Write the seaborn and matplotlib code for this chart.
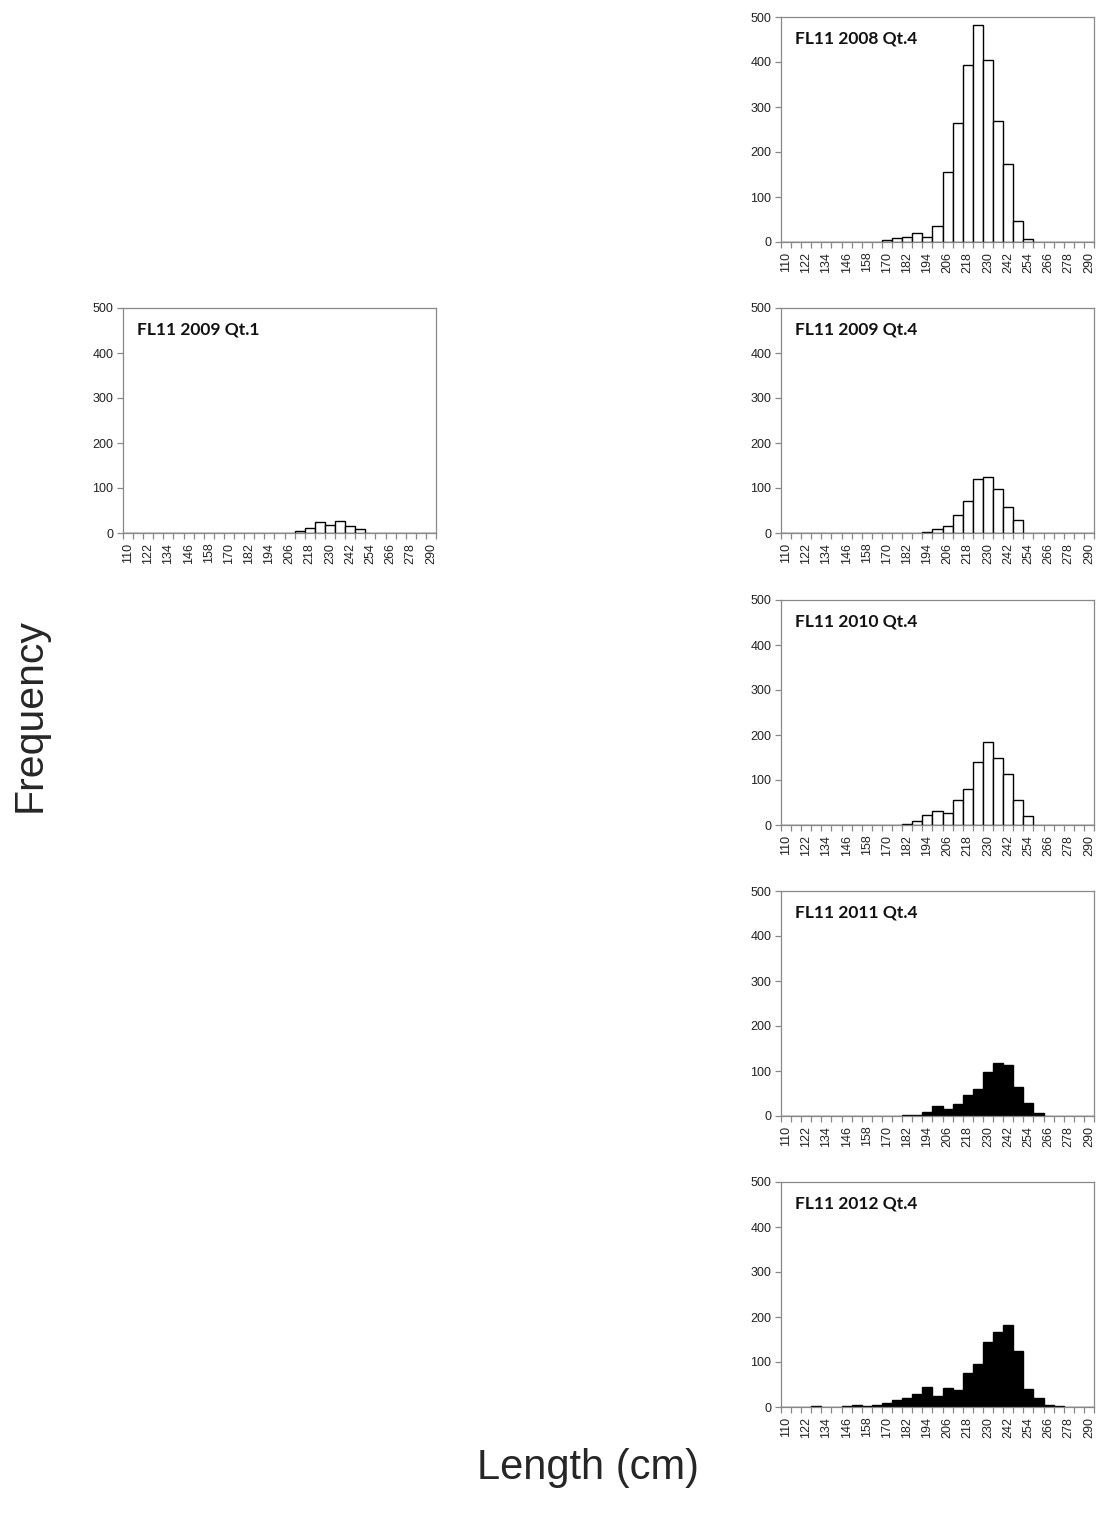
import matplotlib
matplotlib.use("Agg")
import matplotlib.pyplot as plt
import seaborn as sns
import pandas as pd
import numpy as np

# length classes (cm), 6 cm bins
lengths = list(range(110, 291, 6))

fl11_2008_q4 = [0, 0, 0, 0, 0, 0, 0, 0, 0, 0, 4, 10, 12, 20, 11, 36, 155, 264, 394, 483,
                405, 269, 173, 46, 6, 1, 0, 0, 0, 0, 0]
fl11_2009_q1 = [0, 0, 0, 0, 0, 0, 0, 0, 0, 0, 0, 0, 0, 0, 0, 0, 0, 5, 12, 25,
                18, 27, 15, 8, 0, 0, 0, 0, 0, 0, 0]
fl11_2009_q4 = [0, 0, 0, 0, 0, 0, 0, 0, 0, 0, 0, 0, 1, 1, 2, 10, 16, 39, 72, 120,
                125, 97, 58, 29, 1, 0, 0, 0, 0, 0, 0]
fl11_2010_q4 = [0, 0, 0, 0, 0, 0, 0, 0, 0, 0, 0, 1, 2, 10, 22, 31, 27, 56, 79, 141,
                185, 150, 114, 56, 19, 1, 0, 0, 0, 0, 0]
fl11_2011_q4 = [0, 0, 0, 0, 0, 0, 0, 0, 0, 0, 0, 0, 3, 3, 9, 23, 15, 27, 47, 61,
                97, 118, 113, 65, 29, 6, 0, 0, 0, 0, 0]
fl11_2012_q4 = [0, 0, 0, 2, 0, 0, 2, 4, 2, 4, 8, 16, 19, 28, 44, 25, 43, 38, 76, 96,
                144, 166, 183, 124, 40, 19, 5, 2, 0, 0, 0]

sns.set_style("white")
plt.rcParams['font.family'] = ['Liberation Sans', 'DejaVu Sans']

W, H = 1099, 1521
fig = plt.figure(figsize=(W / 100, H / 100), dpi=100)


def panel(left, top, right, bottom, values, title, fill):
    ax = fig.add_axes([left / W, 1 - bottom / H, (right - left) / W, (bottom - top) / H])
    df = pd.DataFrame({"length": [str(v) for v in lengths], "freq": values})
    sns.barplot(data=df, x="length", y="freq", color=fill, edgecolor="black",
                linewidth=1.0, width=1.0, saturation=1, ax=ax)
    ax.set_xlim(-0.5, len(lengths) - 0.5)
    ax.set_ylim(0, 500)
    ax.set_yticks(range(0, 501, 100))
    ax.set_xticks(range(0, len(lengths), 2))
    ax.set_xticklabels([str(v) for v in lengths[::2]], rotation=90)
    ax.set_xticks(np.arange(-0.5, len(lengths), 1), minor=True)
    ax.tick_params(axis="x", which="major", length=0, labelsize=9, pad=7, colors="#222222")
    ax.tick_params(axis="x", which="minor", length=4, width=0.9, color="#888888", bottom=True)
    ax.tick_params(axis="y", length=4, width=0.9, left=True, labelsize=9, pad=3,
                   color="#888888", labelcolor="#222222")
    for s in ax.spines.values():
        s.set_color("#888888")
        s.set_linewidth(0.9)
    ax.set_xlabel("")
    ax.set_ylabel("")
    ax.text(0.045, 0.94, title, transform=ax.transAxes, fontsize=12.5, family="Lato",
            fontweight="bold", va="top", ha="left", color="#111111")
    return ax


panel(781, 17, 1094, 242, fl11_2008_q4, "FL11 2008 Qt.4", "white")
panel(123, 308, 436, 533, fl11_2009_q1, "FL11 2009 Qt.1", "white")
panel(781, 308, 1094, 533, fl11_2009_q4, "FL11 2009 Qt.4", "white")
panel(781, 600, 1094, 825, fl11_2010_q4, "FL11 2010 Qt.4", "white")
panel(781, 891, 1094, 1116, fl11_2011_q4, "FL11 2011 Qt.4", "black")
panel(781, 1182, 1094, 1407, fl11_2012_q4, "FL11 2012 Qt.4", "black")

fig.text(30 / W, 1 - 715 / H, "Frequency", rotation=90, fontsize=29.5,
         ha="center", va="center")
fig.text(588 / W, 1 - 1468 / H, "Length (cm)", fontsize=30,
         ha="center", va="center")

fig.savefig("out.png", dpi=100)
